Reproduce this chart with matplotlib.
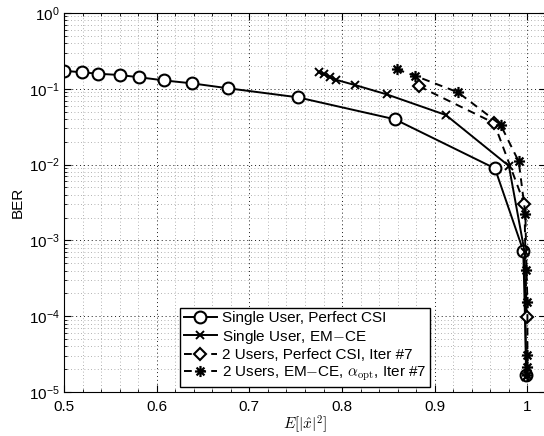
#!/usr/bin/env python
import numpy as np
import matplotlib
matplotlib.use('Agg')
import matplotlib.pyplot as plt
from matplotlib.path import Path
from matplotlib.ticker import MultipleLocator, LogLocator, NullFormatter

plt.rcParams['font.family'] = ['Liberation Sans', 'DejaVu Sans']
plt.rcParams['mathtext.fontset'] = 'cm'

# Single User, Perfect CSI
su_csi_x = [0.500, 0.519, 0.537, 0.560, 0.581, 0.608, 0.638, 0.677, 0.752, 0.857, 0.965, 0.9955, 0.999]
su_csi_y = [0.173, 0.165, 0.158, 0.152, 0.142, 0.129, 0.118, 0.1016, 0.0773, 0.0396, 0.0089, 7.3e-4, 1.67e-5]

# Single User, EM-CE
su_em_x = [0.775, 0.781, 0.787, 0.794, 0.814, 0.848, 0.912, 0.980, 0.997, 0.9985]
su_em_y = [0.165, 0.155, 0.142, 0.131, 0.112, 0.0846, 0.0451, 0.0096, 7.0e-4, 1.6e-5]

# 2 Users, Perfect CSI, Iter #7
mu_csi_x = [0.883, 0.964, 0.9968, 0.9991]
mu_csi_y = [0.108, 0.0354, 0.0030, 9.7e-5]

# 2 Users, EM-CE, alpha_opt, Iter #7
mu_em_x = [0.859, 0.879, 0.925, 0.971, 0.9906, 0.9978, 0.999, 1.0, 1.0, 1.0, 0.9995]
mu_em_y = [0.181, 0.148, 0.090, 0.0336, 0.0110, 0.00223, 4.07e-4, 1.56e-4, 3.08e-5, 2.16e-5, 1.67e-5]

labels = ['Single User, Perfect CSI',
          'Single User, EM$-$CE',
          '2 Users, Perfect CSI, Iter #7',
          r'2 Users, EM$-$CE, $\alpha_{\mathrm{opt}}$, Iter #7']

# MATLAB style asterisk (+ and x together)
s = 0.7071
asterisk = Path([(-1, 0), (1, 0), (0, -1), (0, 1), (-s, -s), (s, s), (-s, s), (s, -s)],
                [Path.MOVETO, Path.LINETO] * 4)


def main():
    fig = plt.figure(figsize=(5.44, 4.36), dpi=100)
    ax = fig.add_axes([0.1176, 0.1009, 0.886, 0.8693])

    ax.plot(su_csi_x, su_csi_y, '-', color='k', lw=1.4, marker='o', ms=8.5,
            mfc='white', mec='k', mew=1.5, label=labels[0])
    ax.plot(su_em_x, su_em_y, '-', color='k', lw=1.4, marker='x', ms=6,
            mew=1.4, label=labels[1])
    ax.plot(mu_csi_x, mu_csi_y, '--', color='k', lw=1.4, marker='D', ms=6.5,
            mfc='white', mec='k', mew=1.5, label=labels[2], dashes=(4, 3))
    ax.plot(mu_em_x, mu_em_y, '--', color='k', lw=1.4, marker=asterisk, ms=8,
            mec='k', mew=1.6, label=labels[3], dashes=(4, 3))

    ax.set_yscale('log')
    ax.set_xlim(0.5, 1.02)
    ax.set_ylim(1e-5, 1)
    ax.set_xticks([0.5, 0.6, 0.7, 0.8, 0.9, 1.0])
    ax.set_xticklabels(['0.5', '0.6', '0.7', '0.8', '0.9', '1'])
    ax.xaxis.set_minor_locator(MultipleLocator(0.02))
    ax.yaxis.set_major_locator(LogLocator(base=10, numticks=10))
    ax.yaxis.set_minor_locator(LogLocator(base=10, subs=np.arange(2, 10), numticks=20))
    ax.yaxis.set_minor_formatter(NullFormatter())

    ax.tick_params(which='both', direction='in', top=True, right=True, labelsize=11)
    ax.tick_params(which='major', length=5)
    ax.tick_params(axis='x', which='major', pad=6)
    ax.tick_params(axis='y', which='major', pad=3)
    ax.tick_params(which='minor', length=2.5)

    ax.grid(True, which='major', linestyle=(0, (1, 3)), color='0.1', lw=0.7)
    ax.grid(True, which='minor', linestyle=(0, (1, 3)), color='0.6', lw=0.6)
    ax.set_axisbelow(True)

    ax.set_xlabel(r'$E[|\hat{x}|^2]$', fontsize=11, labelpad=-1)
    ax.set_ylabel('BER', fontsize=11, labelpad=3)

    generateLegend(ax)
    fig.savefig('out.png', dpi=100)


def generateLegend(ax):
    legend = ax.legend(loc='lower center', bbox_to_anchor=(0.5, 0.0), borderaxespad=0.35,
                       fontsize=11, fancybox=False, framealpha=1, edgecolor='k',
                       handlelength=2.2, handletextpad=0.3, labelspacing=0.15,
                       borderpad=0.25)
    legend.get_frame().set_linewidth(1.0)
    return


if __name__ == "__main__":
    main()
